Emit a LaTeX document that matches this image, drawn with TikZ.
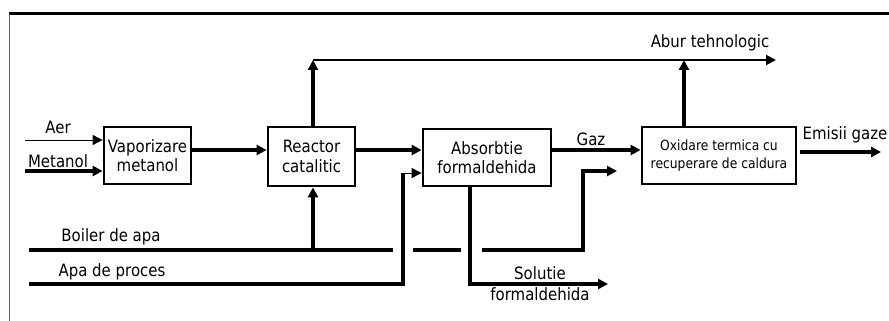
\documentclass[tikz,border=0pt]{standalone}
\usepackage{fontspec}
\setmainfont[FakeStretch=0.88]{DejaVu Sans}
\usepackage{tikz}
\usetikzlibrary{calc, arrows.meta, positioning}

\tikzset{
    flux/.style={line width=3.2pt},
    fluxthin/.style={line width=1pt},
    procbox/.style={draw, line width=2.8pt, fill=white, inner sep=0pt, align=center, font=\fontsize{17}{19.5}\selectfont},
    eticheta/.style={font=\fontsize{17}{19}\selectfont, inner sep=0pt, align=center}
}

\begin{document}
\begin{tikzpicture}[>={Triangle[length=10pt,width=10pt]}, x=1pt, y=-1pt]

    % =================================================================
    % 1. CADRU SI COORDONATE
    % =================================================================
    \useasboundingbox (0,0) rectangle (889,321);
    \draw[line width=3pt] (9,14) -- (889,14);
    \draw[line width=1pt, black!60] (9,14) -- (9,321);

    \coordinate (aerin) at (25,140);
    \coordinate (metin) at (25,171);
    \coordinate (lvl) at (0,150);
    \coordinate (aburL) at (313,60);
    \coordinate (aburR) at (776,60);
    \coordinate (aburX) at (684,60);
    \coordinate (boilL) at (29,250);
    \coordinate (boilA) at (393,250);
    \coordinate (boilB) at (413,250);
    \coordinate (boilC) at (461,250);
    \coordinate (boilD) at (482,250);
    \coordinate (boilE) at (583,250);
    \coordinate (boilF) at (583,171);
    \coordinate (boilG) at (617,171);
    \coordinate (apaL) at (29,284);
    \coordinate (apaR) at (403,284);
    \coordinate (apaU) at (403,173);
    \coordinate (solD) at (470,284);
    \coordinate (solR) at (608,284);
    \coordinate (emisL) at (800,152);
    \coordinate (emisR) at (881,152);

    % =================================================================
    % 2. BLOCURILE PROCESULUI
    % =================================================================
    \node[procbox, minimum width=87pt, minimum height=57pt] (vap) at (147.5,155.5) {Vaporizare\\metanol};
    \node[procbox, minimum width=87pt, minimum height=59pt] (reac) at (311.5,156.5) {Reactor\\catalitic};
    \node[procbox, minimum width=128pt, minimum height=57pt] (abs) at (487,157.5) {Absorbtie\\formaldehida};
    \node[procbox, minimum width=154pt, minimum height=57pt, font=\fontsize{14}{17.5}\selectfont] (oxi) at (719,155.5) {Oxidare termica cu\\recuperare de caldura};

    % =================================================================
    % 3. FLUXURI PRINCIPALE
    % =================================================================
    \draw[fluxthin, ->] (aerin) -- (aerin -| vap.west);
    \draw[flux, ->] (metin) -- (metin -| vap.west);
    \draw[flux, ->] (vap.east |- lvl) -- (reac.west |- lvl);
    \draw[flux, ->] (reac.east |- lvl) -- (abs.west |- lvl);
    \draw[flux, ->] (abs.east |- lvl) -- (oxi.west |- lvl);
    \draw[flux, ->] (emisL) -- (emisR);

    % Abur tehnologic
    \draw[flux, ->] (reac.north -| aburL) -- (aburL);
    \draw[line width=2pt, ->] (aburL) -- (aburR);
    \draw[flux, ->] (oxi.north -| aburX) -- (aburX);

    % Boiler de apa
    \draw[flux] (boilL) -- (boilA);
    \draw[flux] (boilB) -- (boilC);
    \draw[flux, ->] (boilD) -- (boilE) -- (boilF) -- (boilG);
    \draw[flux, ->] (boilL -| aburL) -- (reac.south -| aburL);

    % Apa de proces
    \draw[flux] (apaL) -- (apaR) -- (apaU);
    \draw[fluxthin, ->] (apaU) -- (apaU -| abs.west);

    % Solutie formaldehida
    \draw[flux, ->] (abs.south -| solD) -- (solD) -- (solR);

    % =================================================================
    % 4. ETICHETE
    % =================================================================
    \node[eticheta] (laer) at (58,127) {Aer};
    \node[eticheta] (lmet) at (58,161) {Metanol};
    \node[eticheta] (lboil) at (111,237) {Boiler de apa};
    \node[eticheta] (lapa) at (112,272) {Apa de proces};
    \node[eticheta] (labur) at (710,43) {Abur tehnologic};
    \node[eticheta] (lgaz) at (591,139) {Gaz};
    \node[eticheta] (lemis) at (845,135) {Emisii gaze};
    \node[eticheta, font=\fontsize{17}{21}\selectfont] (lsol) at (540,284) {Solutie\\formaldehida};

\end{tikzpicture}
\end{document}
